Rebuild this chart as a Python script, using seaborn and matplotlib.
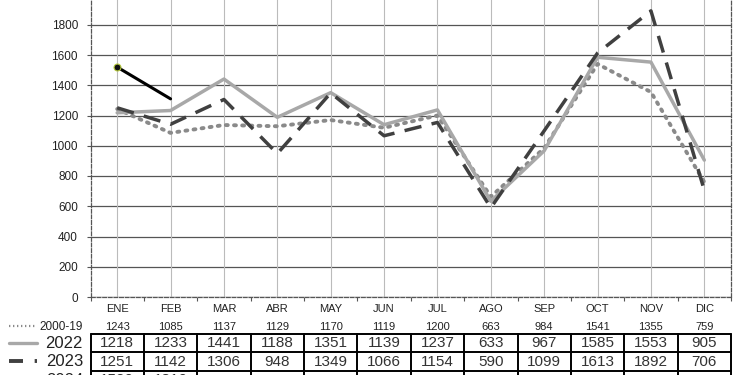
import matplotlib
matplotlib.use("Agg")
import matplotlib.pyplot as plt
import matplotlib.transforms as mtransforms
import seaborn as sns
import pandas as pd
import numpy as np

months = ["ENE", "FEB", "MAR", "ABR", "MAY", "JUN", "JUL", "AGO", "SEP", "OCT", "NOV", "DIC"]
avg_2000_19 = [1243, 1085, 1137, 1129, 1170, 1119, 1200, 663, 984, 1541, 1355, 759]
y2022 = [1218, 1233, 1441, 1188, 1351, 1139, 1237, 633, 967, 1585, 1553, 905]
y2023 = [1251, 1142, 1306, 948, 1349, 1066, 1154, 590, 1099, 1613, 1892, 706]
y2024 = [1520, 1310]
yticks = [0, 200, 400, 600, 800, 1000, 1200, 1400, 1600, 1800, 2000]

sns.set_theme(style="white")
plt.rcParams['font.family'] = ['Liberation Sans', 'DejaVu Sans']

W, H = 750, 375
fig = plt.figure(figsize=(7.5, 3.75), dpi=100)
ax_left, ax_right = 90.5 / W, 731 / W
ax_bottom = 1 - 297 / H
ax_top = 1 + 5.5 / H
ax = fig.add_axes([ax_left, ax_bottom, ax_right - ax_left, ax_top - ax_bottom])

x = np.arange(len(months))
df_avg = pd.DataFrame({"x": x, "v": avg_2000_19})
df22 = pd.DataFrame({"x": x, "v": y2022})
df23 = pd.DataFrame({"x": x, "v": y2023})
df24 = pd.DataFrame({"x": x[:len(y2024)], "v": y2024})

sns.lineplot(data=df_avg, x="x", y="v", ax=ax, color="#8a8a8a", lw=2.8,
             linestyle=(0, (0.5, 1.6)), dash_capstyle="round", zorder=3)
sns.lineplot(data=df22, x="x", y="v", ax=ax, color="#a8a8a8", lw=2.5, zorder=4)
sns.lineplot(data=df23, x="x", y="v", ax=ax, color="#404040", lw=2.5,
             linestyle=(0, (5, 3)), zorder=5)
sns.lineplot(data=df24, x="x", y="v", ax=ax, color="#000000", lw=2.2, zorder=6,
             marker="o", markevery=[0], markersize=5, markerfacecolor="#111111",
             markeredgecolor="#b8cc40", markeredgewidth=0.8)

ax.set_xlim(-0.5, 11.5)
ax.set_ylim(0, 2000)
ax.set_yticks(yticks)
ax.set_yticklabels([str(t) for t in yticks], fontsize=8.5, color="#222222")
ax.set_xticks(x)
ax.set_xticklabels(months, fontsize=8, color="#222222")
ax.tick_params(axis="x", length=0, pad=5)
ax.tick_params(axis="y", length=3, width=0.8, color="#555555", pad=6, direction="out", left=True)
ax.set_xticks(np.arange(-0.5, 12, 1), minor=True)
ax.tick_params(axis="x", which="minor", length=3, width=0.8, color="#555555", direction="out", bottom=True)
ax.set_xlabel("")
ax.set_ylabel("")

ax.grid(axis="y", color="#555555", lw=0.9)
for xi in x:
    ax.axvline(xi, color="#bbbbbb", lw=0.8, zorder=1)
ax.set_axisbelow(True)

for side in ["left", "right", "bottom"]:
    ax.spines[side].set_visible(True)
    ax.spines[side].set_color("#555555")
    ax.spines[side].set_linewidth(0.9)
    ax.spines[side].set_linestyle((0, (3, 1.5)))
ax.spines["top"].set_visible(False)

# table below
trans = mtransforms.blended_transform_factory(ax.transData, fig.transFigure)
figy = lambda py: 1 - py / H

for xi, v in zip(x, avg_2000_19):
    fig.text(xi, figy(327.5), str(v), transform=trans, ha="center", va="center", fontsize=8, color="#222222")

row_tops = [333.5, 352, 370.5, 389]
rows = [y2022, y2023, y2024]
for r, vals in enumerate(rows):
    ymid = (row_tops[r] + row_tops[r + 1]) / 2 + 0.5
    for xi, v in zip(x[:len(vals)], vals):
        fig.text(xi, figy(ymid), str(v), transform=trans, ha="center", va="center", fontsize=11, color="#333333")

for yt in row_tops:
    fig.add_artist(plt.Line2D([-0.5, 11.5], [figy(yt), figy(yt)], transform=trans, color="black", lw=1.4))
for xb in np.arange(-0.5, 12, 1):
    fig.add_artist(plt.Line2D([xb, xb], [figy(row_tops[0]), figy(row_tops[-1])], transform=trans, color="black", lw=1.4))

# legend labels
fig.text(83 / W, figy(327.5), "2000-19", ha="right", va="center", fontsize=8.5, color="#222222")
fig.text(83 / W, figy(343), "2022", ha="right", va="center", fontsize=12, color="#222222")
fig.text(83 / W, figy(361), "2023", ha="right", va="center", fontsize=12, color="#222222")
fig.text(83 / W, figy(380), "2024", ha="right", va="center", fontsize=12, color="#222222")
fig.add_artist(plt.Line2D([9 / W, 36 / W], [figy(326), figy(326)], color="#8a8a8a", lw=1.6,
                          linestyle=(0, (0.6, 1.2))))
fig.add_artist(plt.Line2D([9 / W, 37 / W], [figy(343), figy(343)], color="#a8a8a8", lw=2.4))
fig.add_artist(plt.Line2D([9 / W, 37 / W], [figy(361), figy(361)], color="#404040", lw=2.8,
                          linestyle=(0, (3.6, 3.0))))

fig.savefig("out.png", dpi=100)
